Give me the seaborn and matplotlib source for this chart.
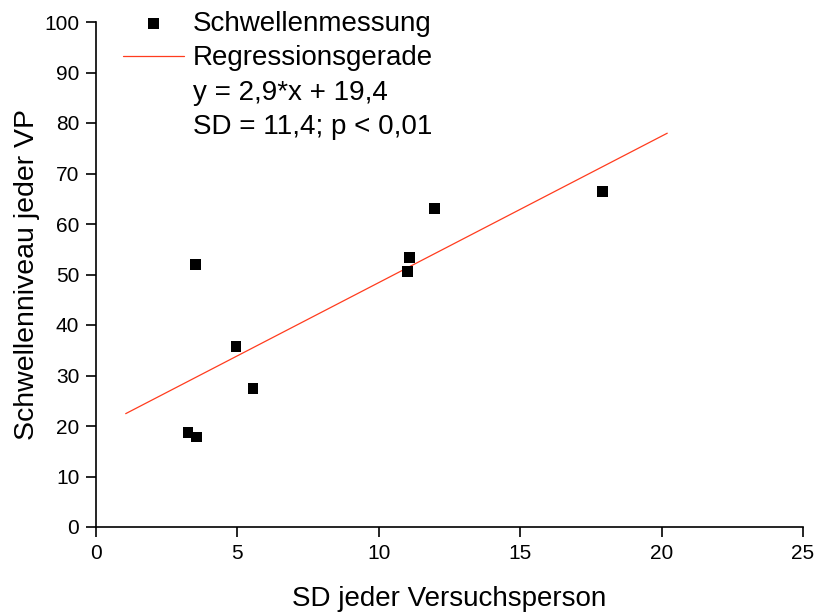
import matplotlib
matplotlib.use("Agg")
import matplotlib.pyplot as plt
import seaborn as sns
import pandas as pd
from matplotlib.lines import Line2D

# ---- data ----
sd_values = [3.53, 4.95, 5.55, 3.25, 3.55, 11.09, 11.02, 11.97, 17.9]
threshold_values = [52.0, 35.8, 27.5, 18.7, 17.8, 53.3, 50.6, 63.0, 66.5]
reg_slope = 2.9
reg_intercept = 19.4
reg_x = [1.05, 20.2]
x_ticks = [0, 5, 10, 15, 20, 25]
y_ticks = [0, 10, 20, 30, 40, 50, 60, 70, 80, 90, 100]
legend_labels = ["Schwellenmessung", "Regressionsgerade",
                 "y = 2,9*x + 19,4", "SD = 11,4; p < 0,01"]
x_label = "SD jeder Versuchsperson"
y_label = "Schwellenniveau jeder VP"

sns.set_theme(style="white")
plt.rcParams["font.family"] = ["Liberation Sans", "DejaVu Sans"]

df_pts = pd.DataFrame({"sd": sd_values, "thr": threshold_values})
reg_y = [reg_slope * v + reg_intercept for v in reg_x]
df_line = pd.DataFrame({"sd": reg_x, "thr": reg_y})

fig = plt.figure(figsize=(8.15, 6.14), dpi=100)
ax = fig.add_axes([96 / 815, 1 - 527 / 614, (803 - 96) / 815, (527 - 22) / 614])

sns.scatterplot(data=df_pts, x="sd", y="thr", marker="s", s=60, color="black",
                edgecolor="none", ax=ax, label=legend_labels[0], zorder=3)
sns.lineplot(data=df_line, x="sd", y="thr", color="#FF3C1E", linewidth=0.9,
             ax=ax, label=legend_labels[1], zorder=2)

ax.set_xlim(0, 25)
ax.set_ylim(0, 100)
ax.set_xticks(x_ticks)
ax.set_yticks(y_ticks)
ax.set_xticklabels([str(t) for t in x_ticks], fontsize=15)
ax.set_yticklabels([str(t) for t in y_ticks], fontsize=15)
ax.tick_params(axis="both", direction="out", length=7, width=1.2, color="black",
               pad=5, labelcolor="black", left=True, bottom=True)
for side in ["top", "right"]:
    ax.spines[side].set_visible(False)
for side in ["left", "bottom"]:
    ax.spines[side].set_color("black")
    ax.spines[side].set_linewidth(1.2)
ax.grid(False)

ax.set_xlabel(x_label, fontsize=20, labelpad=17, color="black")
ax.set_ylabel(y_label, fontsize=20.5, labelpad=3, color="black")

handles, labels = ax.get_legend_handles_labels()
blank = Line2D([], [], linestyle="none", marker=None)
handles = handles + [blank, blank]
labels = labels + legend_labels[2:]
leg = ax.legend(handles, labels, loc="upper left",
                bbox_to_anchor=(123 / 815, 1 - 11 / 614), bbox_transform=fig.transFigure,
                frameon=False, fontsize=20, handlelength=2.2, handletextpad=0.32,
                borderpad=0, borderaxespad=0, labelspacing=0.3)
for t in leg.get_texts():
    t.set_color("black")

fig.savefig("out.png", dpi=100)
